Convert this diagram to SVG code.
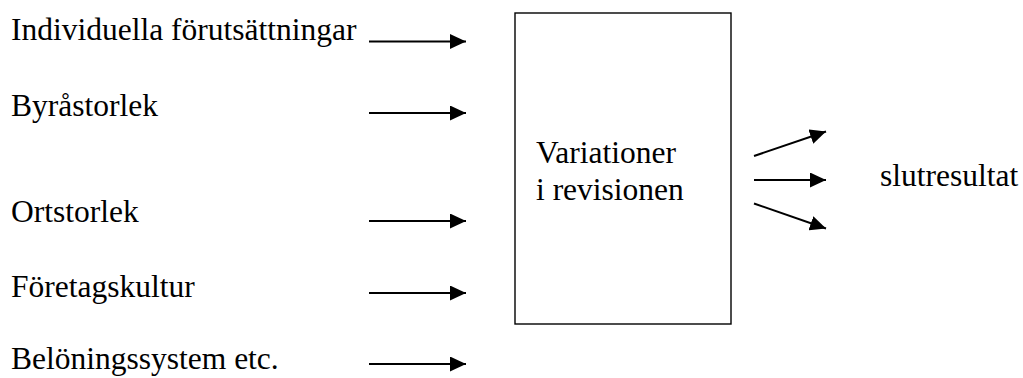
<svg xmlns="http://www.w3.org/2000/svg" width="1023" height="378" viewBox="0 0 1023 378">
  <defs>
    <style>
      .conn { stroke: #000; stroke-width: 2; fill: none; }
      .box { fill: #fff; stroke: #000; stroke-width: 1.4; }
    </style>
    <marker id="head" markerUnits="userSpaceOnUse" markerWidth="17" markerHeight="15" refX="16" refY="7.5" orient="auto">
      <path d="M0,0 L16,7.5 L0,15 Z" fill="#000"/>
    </marker>
  </defs>
  <rect width="1023" height="378" fill="#fff"/>

  <g font-family="'Liberation Serif', 'Times New Roman', serif" font-size="31.5" fill="#000">
    <!-- factor labels -->
    <g id="factor-individuella"><text x="11" y="39.5">Individuella förutsättningar</text></g>
    <g id="factor-byrastorlek"><text x="11" y="116">Byråstorlek</text></g>
    <g id="factor-ortstorlek"><text x="11" y="222">Ortstorlek</text></g>
    <g id="factor-foretagskultur"><text x="11" y="296.5">Företagskultur</text></g>
    <g id="factor-beloningssystem"><text x="11" y="369">Belöningssystem etc.</text></g>

    <!-- central box -->
    <g id="variationer">
      <rect class="box" x="515" y="13" width="216" height="311"/>
      <text x="536" y="163">Variationer</text>
      <text x="536" y="200">i revisionen</text>
    </g>

    <!-- outcome label -->
    <g id="slutresultat"><text x="880" y="186">slutresultat</text></g>
  </g>

  <!-- arrows -->
  <g id="connectors" marker-end="url(#head)">
    <line class="conn" x1="369" y1="41.5" x2="466" y2="41.5"/>
    <line class="conn" x1="369" y1="113" x2="466" y2="113"/>
    <line class="conn" x1="369" y1="221" x2="466" y2="221"/>
    <line class="conn" x1="369" y1="293" x2="466" y2="293"/>
    <line class="conn" x1="369" y1="364" x2="466" y2="364"/>
    <line class="conn" x1="754" y1="156" x2="826" y2="131.5"/>
    <line class="conn" x1="754" y1="180" x2="826" y2="180"/>
    <line class="conn" x1="754" y1="203.5" x2="826" y2="228.5"/>
  </g>
</svg>
